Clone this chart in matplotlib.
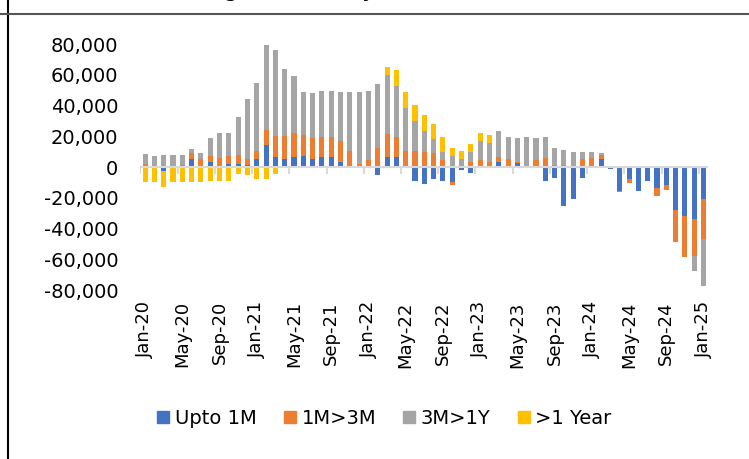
import numpy as np
import pandas as pd
import matplotlib.pyplot as plt
from matplotlib.lines import Line2D

# Kategories: un mes per barra, Jan-20 .. Jan-25
mesos = pd.date_range("2020-01-01", "2025-01-01", freq="MS").strftime("%b-%y").tolist()

upto_1m = [500, 500, -2500, 0, 0, 5400, 0, 3250, 700, 2000,
           1700, 1300, 5000, 14100, 6500, 5200, 6300, 6900, 5400, 6700,
           6700, 3500, 0, 0, 0, -5200, 6700, 6700, 0, -9100,
           -11300, -7600, -9100, -9750, -1700, -3700, 0, 0, 3500, 0,
           2400, 870, 0, -9100, -7150, -25350, -20600, -7150, 0, 5000,
           -1200, -15400, -7800, -15800, -8900, -13650, -11500, -28200, -32100, -33600,
           -20800]
m1_3m = [1500, 500, 0, 1000, 1200, 3700, 5000, 3700, 5200, 5000,
         5900, 3700, 5400, 10200, 13650, 15000, 15800, 13650, 13400, 13000,
         13000, 13400, 10600, 1700, 4550, 12600, 14500, 12600, 10600, 10600,
         9750, 9300, 4550, -2200, 650, 3500, 4550, 3500, 3250, 5000,
         1100, 0, 4550, 6100, 1300, 1300, -400, 5000, 6100, 2800,
         0, -1100, -2600, 0, -400, -5400, -3250, -20800, -26400, -24000,
         -25800]
m3_1y = [6300, 6200, 7800, 7000, 6500, 2800, 4100, 12000, 16400, 14900,
         25100, 39400, 44400, 55400, 56300, 43900, 37100, 28200, 29500, 29700,
         29700, 31600, 37900, 46800, 44850, 41400, 38800, 33600, 28000, 19500,
         13400, 8700, 5000, 7400, 4550, 6500, 12350, 12350, 16700, 14700,
         15200, 18400, 14500, 13200, 10800, 9750, 9500, 4550, 3500, 1500,
         0, 0, 0, 0, 0, 0, 0, 0, 0, -9750,
         -30550]
over_1y = [-9500, -9500, -10500, -9500, -9500, -9500, -9500, -8900, -8900, -8900,
           -4800, -5400, -8000, -8000, -4300, 0, 0, 0, 0, 0,
           0, 0, 0, 0, 0, 0, 5200, 10400, 10400, 10200,
           10400, 10000, 10200, 4800, 5200, 5000, 5000, 5000, 0, 0,
           0, 0, 0, 0, 0, 0, 0, 0, 0, 0,
           0, 0, 0, 0, 0, 0, 0, 0, 0, 0,
           0]

noms_series = ["Upto 1M", "1M>3M", "3M>1Y", ">1 Year"]
colors = ["#4472C4", "#ED7D31", "#A5A5A5", "#FFC000"]
marques_y = [-80000, -60000, -40000, -20000, 0, 20000, 40000, 60000, 80000]


def dibuixar():
    fig = plt.figure(figsize=(7.49, 4.59), dpi=100)
    ax = fig.add_axes([0.1875, 0.368, 0.758, 0.536])

    x = np.arange(len(mesos))
    base_pos = np.zeros(len(x))
    base_neg = np.zeros(len(x))
    for valors, nom, col in zip([upto_1m, m1_3m, m3_1y, over_1y], noms_series, colors):
        v = np.array(valors, dtype=float)
        pos = np.where(v > 0, v, 0)
        neg = np.where(v < 0, v, 0)
        ax.bar(x, pos, 0.55, bottom=base_pos, color=col, zorder=2)
        ax.bar(x, neg, 0.55, bottom=base_neg, color=col, zorder=2)
        base_pos += pos
        base_neg += neg

    # eix de categories a zero, amb marques cada 4 mesos
    ax.axhline(0, color="#D9D9D9", lw=1.5, zorder=3)
    ax.vlines(np.arange(-0.5, len(x), 4), -4500, 0, color="#D9D9D9", lw=1.5, zorder=3)

    ax.set_xlim(-0.5, len(x) - 0.5)
    ax.set_ylim(-80000, 80000)
    for s in ax.spines.values():
        s.set_visible(False)

    ax.set_yticks(marques_y)
    ax.set_yticklabels([f"{v:,}" for v in marques_y], fontsize=14)
    ax.tick_params(axis="y", length=0, pad=16)

    ax.set_xticks(x[::4])
    ax.set_xticklabels(mesos[::4], rotation=90, fontsize=13)
    ax.tick_params(axis="x", length=0, pad=8)

    handles = [Line2D([], [], marker="s", linestyle="none", markersize=8,
                      markerfacecolor=c, markeredgecolor=c) for c in colors]
    fig.legend(handles, noms_series, loc="center", bbox_to_anchor=(0.511, 0.089),
               ncol=4, frameon=False, fontsize=14, handletextpad=0.1,
               columnspacing=1.2, handlelength=1.0)

    # vores de la taula i titol retallat a dalt (com a la imatge original)
    fig.add_artist(Line2D([8 / 749, 8 / 749], [0, 1], color="black", lw=1.5))
    fig.add_artist(Line2D([0, 1], [1 - 14 / 459, 1 - 14 / 459], color="#555555", lw=1.5))
    fig.text(93 / 749, 1.0 - 1 / 459, "Net Forward Position (Residual Tenor\nOutstanding to Maturity) (USD mn)",
             ha="left", va="bottom", fontsize=17, linespacing=1.1)

    fig.savefig("out.png", dpi=100)


if __name__ == "__main__":
    dibuixar()
